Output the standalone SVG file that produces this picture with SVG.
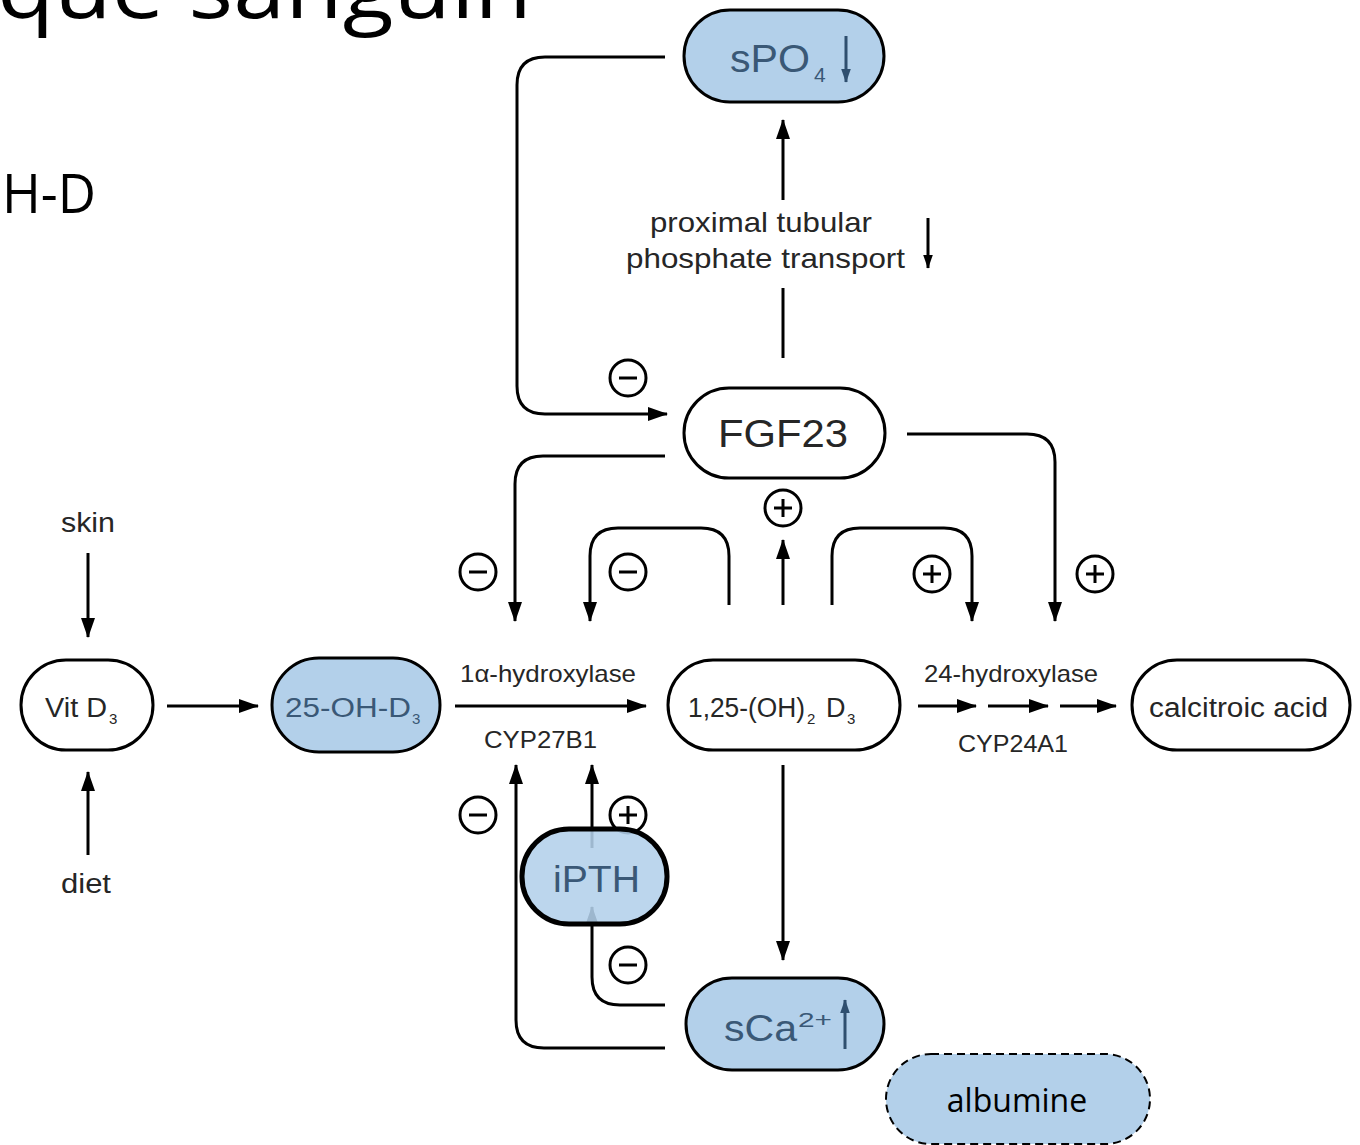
<svg xmlns="http://www.w3.org/2000/svg" width="1360" height="1145" viewBox="0 0 1360 1145">
<defs>
<marker id="ah" viewBox="0 0 20 14" refX="19" refY="7" markerWidth="20" markerHeight="14" markerUnits="userSpaceOnUse" orient="auto"><path d="M0,0 L20,7 L0,14 z" fill="#000"/></marker>
<marker id="ahb" viewBox="0 0 20 14" refX="19" refY="7" markerWidth="14" markerHeight="11" markerUnits="userSpaceOnUse" orient="auto"><path d="M0,0 L20,7 L0,14 z" fill="#2f4f6f"/></marker>
<marker id="ahs" viewBox="0 0 20 14" refX="19" refY="7" markerWidth="14" markerHeight="11" markerUnits="userSpaceOnUse" orient="auto"><path d="M0,0 L20,7 L0,14 z" fill="#000"/></marker>
</defs>
<style>
.node{fill:#fff;stroke:#000;stroke-width:3}
.blue{fill:#b3d0ea;stroke:#000;stroke-width:3}
.lbl{font-family:"Liberation Sans",Arial,sans-serif;fill:#262626}
.btxt{font-family:"Liberation Sans",Arial,sans-serif;fill:#3a5876}
.conn{fill:none;stroke:#000;stroke-width:3;marker-end:url(#ah)}
.line{fill:none;stroke:#000;stroke-width:3}
.sign circle{fill:none;stroke:#000;stroke-width:3}
.sign line{stroke:#000;stroke-width:3}
.big{font-family:"Open Sans","Noto Sans",sans-serif;fill:#000}
</style>
<rect width="1360" height="1145" fill="#fff"/>
<text class="big" x="-3" y="18" font-size="84" textLength="535" lengthAdjust="spacingAndGlyphs">que sanguin</text>
<text class="big" x="2" y="213" font-size="54" textLength="94" lengthAdjust="spacingAndGlyphs">H-D</text>

<g id="connectors">
<path class="conn" d="M665,57 H545 Q517,57 517,85 V386 Q517,414 545,414 H667"/>
<path class="conn" d="M665,456 H543 Q515,456 515,484 V621"/>
<path class="conn" d="M729,605 V556 Q729,528 701,528 H618 Q590,528 590,556 V621"/>
<path class="conn" d="M783,605 V540"/>
<path class="conn" d="M832,605 V556 Q832,528 860,528 H944 Q972,528 972,556 V621"/>
<path class="conn" d="M907,434 H1027 Q1055,434 1055,462 V621"/>
<path class="conn" d="M783,200 V120"/>
<path class="line" d="M783,288 V358"/>
<path class="conn" d="M88,553 V637"/>
<path class="conn" d="M88,855 V772"/>
<path class="conn" d="M167,706 H258"/>
<path class="conn" d="M455,706 H646"/>
<path class="conn" d="M918,706 H976"/>
<path class="conn" d="M988,706 H1048"/>
<path class="conn" d="M1060,706 H1116"/>
<path class="conn" d="M783,765 V960"/>
<path class="conn" d="M665,1048 H544 Q516,1048 516,1020 V765"/>
<path class="conn" d="M665,1005 H620 Q592,1005 592,977 V907"/>
<path class="conn" d="M592,848 V765"/>
<path fill="none" stroke="#000" stroke-width="3" marker-end="url(#ahs)" d="M928,218 V268"/>
</g>

<g id="signs" class="sign">
<g><circle cx="628" cy="378" r="18"/><line x1="619" y1="378" x2="637" y2="378"/></g>
<g><circle cx="478" cy="572" r="18"/><line x1="469" y1="572" x2="487" y2="572"/></g>
<g><circle cx="628" cy="572" r="18"/><line x1="619" y1="572" x2="637" y2="572"/></g>
<g><circle cx="478" cy="815" r="18"/><line x1="469" y1="815" x2="487" y2="815"/></g>
<g><circle cx="628" cy="965" r="18"/><line x1="619" y1="965" x2="637" y2="965"/></g>
<g><circle cx="783" cy="508" r="18"/><line x1="774" y1="508" x2="792" y2="508"/><line x1="783" y1="499" x2="783" y2="517"/></g>
<g><circle cx="932" cy="574" r="18"/><line x1="923" y1="574" x2="941" y2="574"/><line x1="932" y1="565" x2="932" y2="583"/></g>
<g><circle cx="1095" cy="574" r="18"/><line x1="1086" y1="574" x2="1104" y2="574"/><line x1="1095" y1="565" x2="1095" y2="583"/></g>
<g><circle cx="628" cy="815" r="18"/><line x1="619" y1="815" x2="637" y2="815"/><line x1="628" y1="806" x2="628" y2="824"/></g>
</g>

<g id="labels">
<text class="lbl" x="650" y="232" font-size="28" textLength="222" lengthAdjust="spacingAndGlyphs">proximal tubular</text>
<text class="lbl" x="626" y="268" font-size="28" textLength="279" lengthAdjust="spacingAndGlyphs">phosphate transport</text>
<text class="lbl" x="61" y="532" font-size="27" textLength="54" lengthAdjust="spacingAndGlyphs">skin</text>
<text class="lbl" x="61" y="893" font-size="27" textLength="50" lengthAdjust="spacingAndGlyphs">diet</text>
<text class="lbl" x="460" y="682" font-size="24" textLength="176" lengthAdjust="spacingAndGlyphs">1α-hydroxylase</text>
<text class="lbl" x="484" y="748" font-size="24" textLength="113" lengthAdjust="spacingAndGlyphs">CYP27B1</text>
<text class="lbl" x="924" y="682" font-size="24" textLength="174" lengthAdjust="spacingAndGlyphs">24-hydroxylase</text>
<text class="lbl" x="958" y="752" font-size="24" textLength="110" lengthAdjust="spacingAndGlyphs">CYP24A1</text>
</g>

<g id="sPO4">
<rect class="blue" x="684" y="10" width="200" height="92" rx="46"/>
<text class="btxt" x="730" y="72" font-size="38" textLength="80" lengthAdjust="spacingAndGlyphs">sPO</text>
<text class="btxt" x="814" y="82" font-size="21">4</text>
<path fill="none" stroke="#2f4f6f" stroke-width="3" marker-end="url(#ahb)" d="M846,36 V82"/>
</g>

<g id="FGF23">
<rect class="node" x="684" y="388" width="201" height="90" rx="45"/>
<text class="lbl" x="718" y="447" font-size="39" textLength="130" lengthAdjust="spacingAndGlyphs" fill="#111">FGF23</text>
</g>

<g id="VitD3">
<rect class="node" x="21" y="660" width="132" height="90" rx="45"/>
<text class="lbl" x="45" y="717" font-size="27" textLength="62" lengthAdjust="spacingAndGlyphs">Vit D</text>
<text class="lbl" x="109" y="724" font-size="15">3</text>
</g>

<g id="OHD3">
<rect class="blue" x="272" y="658" width="168" height="94" rx="47"/>
<text class="btxt" x="285" y="717" font-size="27" textLength="126" lengthAdjust="spacingAndGlyphs">25-OH-D</text>
<text class="btxt" x="412" y="724" font-size="15">3</text>
</g>

<g id="OH2D3">
<rect class="node" x="668" y="660" width="232" height="90" rx="45"/>
<text class="lbl" x="688" y="717" font-size="27" textLength="117" lengthAdjust="spacingAndGlyphs">1,25-(OH)</text>
<text class="lbl" x="807" y="724" font-size="15">2</text>
<text class="lbl" x="826" y="717" font-size="27">D</text>
<text class="lbl" x="847" y="724" font-size="15">3</text>
</g>

<g id="calcitroic">
<rect class="node" x="1132" y="660" width="218" height="90" rx="45"/>
<text class="lbl" x="1149" y="717" font-size="27" textLength="179" lengthAdjust="spacingAndGlyphs">calcitroic acid</text>
</g>

<g id="iPTH">
<rect x="522" y="829" width="145" height="95" rx="47" fill="#b3d0ea" fill-opacity="0.88" stroke="#000" stroke-width="5"/>
<text class="btxt" x="553" y="892" font-size="37" textLength="87" lengthAdjust="spacingAndGlyphs">iPTH</text>
</g>

<g id="sCa">
<rect class="blue" x="686" y="978" width="198" height="92" rx="46"/>
<text class="btxt" x="724" y="1041" font-size="37" textLength="73" lengthAdjust="spacingAndGlyphs">sCa</text>
<text class="btxt" x="798" y="1027" font-size="21" textLength="34" lengthAdjust="spacingAndGlyphs">2+</text>
<path fill="none" stroke="#2f4f6f" stroke-width="3" marker-end="url(#ahb)" d="M845,1049 V1000"/>
</g>

<g id="albumine">
<rect x="886" y="1054" width="264" height="90" rx="45" fill="#b3d0ea" stroke="#000" stroke-width="2" stroke-dasharray="8 5"/>
<text x="1017" y="1112" font-size="32" text-anchor="middle" font-family="'Open Sans','Noto Sans',sans-serif" fill="#000">albumine</text>
</g>
</svg>
